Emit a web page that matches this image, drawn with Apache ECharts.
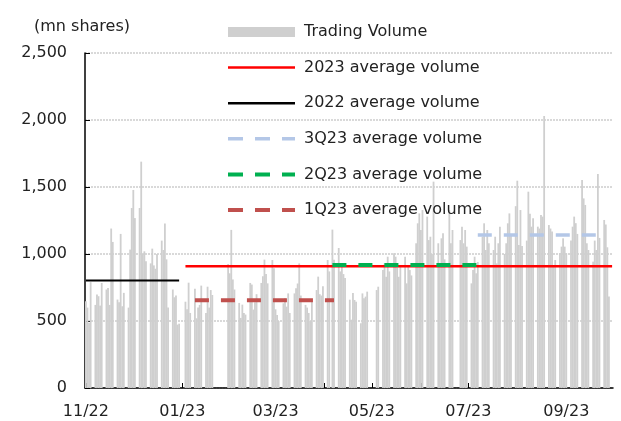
<!DOCTYPE html>
<html>
<head>
<meta charset="utf-8">
<title>Trading volume</title>
<script src="https://cdn.jsdelivr.net/npm/echarts@6/dist/echarts.min.js"></script>
<style>
  html, body { margin: 0; padding: 0; background: #fff; }
  #main { width: 621px; height: 421px; }
</style>
</head>
<body>
<div id="main"></div>
<script>
// daily volume, mn shares, one array per month (trading days only)
var vol2211 = [647, 600, 485, 790, 620, 697, 685, 615, 784, 735, 747, 620, 1190, 1090, 660, 640, 1150, 610, 710, 600, 1033, 1343];
var vol2212 = [1478, 1268, 1343, 1689, 1000, 1020, 945, 930, 1040, 915, 890, 1000, 1100, 1030, 1227, 960, 600, 735, 677, 690, 473, 480];
var vol2301 = [644, 587, 786, 560, 740, 520, 600, 620, 764, 560, 756, 600, 731, 694, 925, 856];
var vol2302 = [1180, 810, 735, 635, 523, 622, 560, 548, 784, 772, 585, 640, 700, 784, 834, 958, 851, 781, 955, 893];
var vol2303 = [587, 545, 500, 632, 669, 607, 706, 560, 706, 744, 780, 930, 690, 620, 600, 560, 500, 650, 731, 831, 700, 690, 760];
var vol2304 = [955, 870, 1182, 958, 1045, 870, 908, 850, 821, 659, 510, 709, 657, 644, 483, 706, 669, 682, 719];
var vol2305 = [731, 756, 880, 930, 830, 980, 870, 1005, 980, 900, 830, 905, 980, 781, 905, 880, 840, 1080, 1229, 1303];
var vol2306 = [1179, 1328, 1279, 1104, 1129, 1000, 1540, 1080, 905, 1117, 1154, 960, 1328, 1080, 1179, 1104, 1204, 1080, 1179, 1055];
var vol2307 = [781, 880, 980, 856, 940, 1129, 1229, 1030, 1179, 1080, 1030, 1129, 930, 1080, 1204, 1000, 1080, 1229, 1303, 1150, 1357];
var vol2308 = [1547, 1067, 1328, 1060, 1100, 1465, 1300, 1204, 1266, 1204, 1190, 1291, 1279, 2030, 1216, 1190, 1167, 918, 955, 1005, 1055, 1117, 1055];
var vol2309 = [1005, 1100, 1204, 1279, 1230, 1150, 1552, 1415, 1366, 1080, 1030, 943, 1100, 1030, 1597, 1120, 1254, 1220, 1050, 682];

// exchange closed on these weekdays
var holidays = ['2023-01-02', '2023-01-23', '2023-01-24', '2023-01-25', '2023-01-26', '2023-01-27',
  '2023-04-05', '2023-05-01', '2023-05-02', '2023-05-03', '2023-06-22', '2023-06-23', '2023-09-29'];

// average lines: [start, end, value]
var avg2022 = ['2022-11-01', '2022-12-30', 803];
var avg2023 = ['2023-01-03', '2023-09-30', 908];
var avg1Q23 = ['2023-01-09', '2023-04-07', 654];
var avg2Q23 = ['2023-04-06', '2023-07-07', 918];
var avg3Q23 = ['2023-07-07', '2023-09-22', 1142];

var yTicks = [0, 500, 1000, 1500, 2000, 2500];

function toTime(s) {
  var p = s.split('-');
  return new Date(+p[0], +p[1] - 1, +p[2]).getTime();
}
function pad(n) { return n < 10 ? '0' + n : '' + n; }

// build trading calendar month by month
var months = [[2022, 10, vol2211], [2022, 11, vol2212], [2023, 0, vol2301], [2023, 1, vol2302],
  [2023, 2, vol2303], [2023, 3, vol2304], [2023, 4, vol2305], [2023, 5, vol2306],
  [2023, 6, vol2307], [2023, 7, vol2308], [2023, 8, vol2309]];
var volData = [];
months.forEach(function (m) {
  var d = new Date(m[0], m[1], 1);
  var i = 0;
  while (d.getMonth() === m[1]) {
    var key = d.getFullYear() + '-' + pad(d.getMonth() + 1) + '-' + pad(d.getDate());
    var wd = d.getDay();
    if (wd !== 0 && wd !== 6 && holidays.indexOf(key) < 0) {
      if (i < m[2].length) volData.push([d.getTime(), m[2][i]]);
      i++;
    }
    d.setDate(d.getDate() + 1);
  }
  if (i !== m[2].length) console.warn('count mismatch', m[0], m[1] + 1, i, m[2].length);
});

function avgLine(name, a, color, width, dash) {
  return {
    name: name,
    type: 'line',
    symbol: 'none',
    data: [[toTime(a[0]), a[2]], [toTime(a[1]), a[2]]],
    lineStyle: { color: color, width: width, type: dash, cap: 'butt' },
    itemStyle: { color: color }
  };
}

// legend entry for a line: hide the marker, keep the stroke
function legendLine(name, width, dash) {
  return {
    name: name,
    itemStyle: { opacity: 0 },
    lineStyle: { width: width, type: dash, cap: 'butt' }
  };
}

var DAY = 86400000;
var font = 'DejaVu Sans';
var myChart = echarts.init(document.getElementById('main'));
var option = {
  animation: false,
  textStyle: { fontFamily: font, color: '#222' },
  grid: { left: 85, right: 8, top: 53, bottom: 33 },
  legend: {
    orient: 'vertical',
    left: 221,
    top: 19,
    padding: 5,
    itemWidth: 67,
    itemHeight: 10,
    itemGap: 19.6,
    textStyle: { fontFamily: font, fontSize: 16, color: '#222', padding: [0, 0, 0, 4] },
    data: [
      { name: 'Trading Volume', icon: 'rect' },
      legendLine('2023 average volume', 2.5, 'solid'),
      legendLine('2022 average volume', 2.5, 'solid'),
      legendLine('3Q23 average volume', 3.5, [15, 12]),
      legendLine('2Q23 average volume', 4, [15, 12]),
      legendLine('1Q23 average volume', 4, [15, 12])
    ]
  },
  xAxis: {
    type: 'time',
    min: toTime('2022-11-01'),
    max: toTime('2023-09-30'),
    splitNumber: 11,
    minInterval: 28 * DAY,
    maxInterval: 31 * DAY,
    axisLine: { lineStyle: { color: '#000', width: 1.5 } },
    axisTick: { show: true, inside: true, length: 5, lineStyle: { color: '#000' } },
    splitLine: { show: false },
    axisLabel: {
      margin: 16,
      fontFamily: font,
      fontSize: 16,
      color: '#222',
      hideOverlap: false,
      showMaxLabel: false,
      formatter: function (val) {
        var d = new Date(val);
        var m = d.getMonth() + 1;
        if (m % 2 === 0) return '';
        return pad(m) + '/' + String(d.getFullYear()).slice(2);
      }
    }
  },
  yAxis: {
    type: 'value',
    min: yTicks[0],
    max: yTicks[yTicks.length - 1],
    interval: yTicks[1] - yTicks[0],
    name: '(mn shares)',
    nameLocation: 'end',
    nameGap: 18,
    nameTextStyle: { fontFamily: font, fontSize: 16, color: '#222', align: 'center', padding: [0, 6, 0, 0] },
    axisLine: { show: true, lineStyle: { color: '#000', width: 1.5 } },
    axisTick: { show: true, inside: true, length: 5, lineStyle: { color: '#000' } },
    splitLine: { lineStyle: { color: '#d9d9d9', width: 2, type: [2, 1] } },
    axisLabel: {
      margin: 18,
      fontFamily: font,
      fontSize: 16,
      color: '#222',
      formatter: function (v) { return v.toLocaleString('en-US'); }
    }
  },
  series: [
    {
      name: 'Trading Volume',
      type: 'bar',
      barWidth: 1.8,
      itemStyle: { color: '#cfcfcf' },
      data: volData
    },
    avgLine('2023 average volume', avg2023, '#ff0000', 2.5, 'solid'),
    avgLine('2022 average volume', avg2022, '#000000', 2, 'solid'),
    avgLine('3Q23 average volume', avg3Q23, '#b4c7e7', 3.5, [14, 12]),
    avgLine('2Q23 average volume', avg2Q23, '#00b050', 4, [14, 12]),
    avgLine('1Q23 average volume', avg1Q23, '#c0504d', 4, [14, 12])
  ]
};
option && myChart.setOption(option);
</script>
</body>
</html>
